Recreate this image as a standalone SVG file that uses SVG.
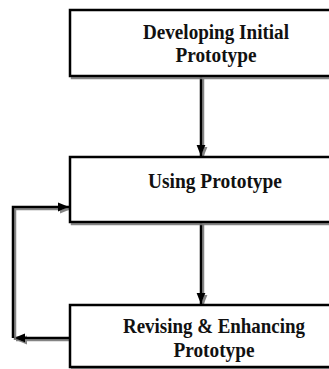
<svg xmlns="http://www.w3.org/2000/svg" width="329" height="369" viewBox="0 0 329 369">
<defs>
<filter id="sh" filterUnits="userSpaceOnUse" x="0" y="0" width="400" height="400">
<feDropShadow dx="2" dy="2" stdDeviation="0.6" flood-color="#777" flood-opacity="0.9"/>
</filter>
<marker id="ah" viewBox="0 0 10 10" refX="10" refY="5" markerWidth="4.5" markerHeight="4.5" orient="auto" markerUnits="strokeWidth">
<path d="M0,1 L10,5 L0,9 z" fill="#000"/>
</marker>
<style>
.box{fill:#fff;stroke:#000;stroke-width:2.5;filter:url(#sh)}
.lbl{font-family:"Liberation Serif","Times New Roman",serif;font-weight:bold;font-size:20.5px;fill:#111;text-anchor:middle}
.con{fill:none;stroke:#000;stroke-width:2.5;filter:url(#sh)}
</style>
</defs>
<rect width="329" height="369" fill="#fff"/>
<g id="connectors">
<path class="con" d="M201,77 V156" marker-end="url(#ah)"/>
<path class="con" d="M201,222 V304" marker-end="url(#ah)"/>
<path class="con" d="M70,338 H14" marker-end="url(#ah)"/>
<path class="con" d="M13,338 V207 H69" marker-end="url(#ah)"/>
</g>
<g id="n1">
<rect class="box" x="70" y="10" width="290" height="66"/>
<text class="lbl" x="216" y="39" textLength="146" lengthAdjust="spacingAndGlyphs">Developing Initial</text>
<text class="lbl" x="216" y="62" textLength="81" lengthAdjust="spacingAndGlyphs">Prototype</text>
</g>
<g id="n2">
<rect class="box" x="70" y="157" width="290" height="65"/>
<text class="lbl" x="215" y="188" textLength="134" lengthAdjust="spacingAndGlyphs">Using Prototype</text>
</g>
<g id="n3">
<rect class="box" x="70" y="305" width="290" height="62"/>
<text class="lbl" x="214" y="333" textLength="182" lengthAdjust="spacingAndGlyphs">Revising &amp; Enhancing</text>
<text class="lbl" x="214" y="357" textLength="81" lengthAdjust="spacingAndGlyphs">Prototype</text>
</g>
</svg>
